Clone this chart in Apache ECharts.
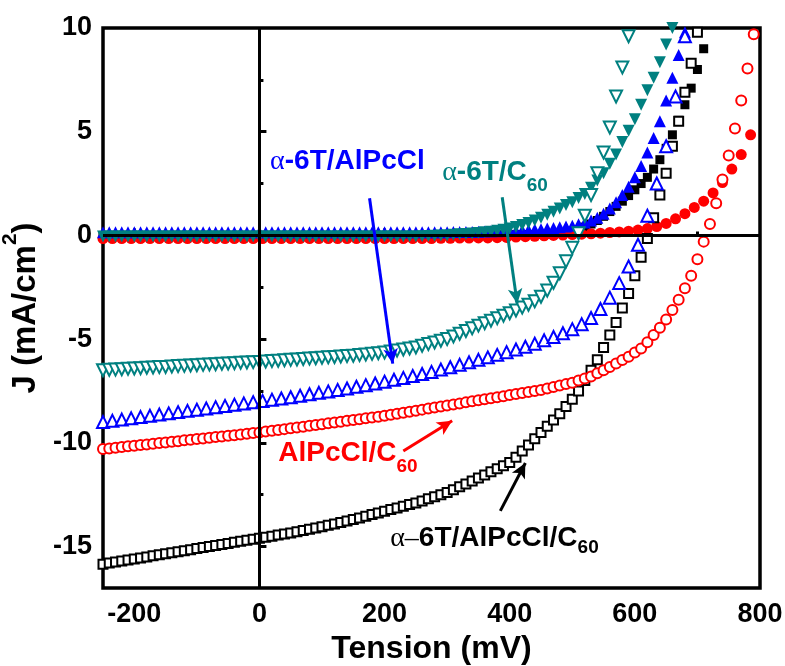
<!DOCTYPE html>
<html><head><meta charset="utf-8">
<script src="https://cdn.jsdelivr.net/npm/echarts@6/dist/echarts.min.js"></script>
<style>html,body{margin:0;padding:0;background:#fff}#c{width:785px;height:666px}</style>
</head><body><div id="c"></div>
<script>
// Voltage grids (mV)
const V10 = [-250,-240,-230,-220,-210,-200,-190,-180,-170,-160,-150,-140,-130,-120,-110,-100,-90,-80,-70,-60,-50,-40,-30,-20,-10,0,10,20,30,40,50,60,70,80,90,100,110,120,130,140,150,160,170,180,190,200,210,220,230,240,250,260,270,280,290,300,310,320,330,340,350,360,370,380,390,400,410,420,430,440,450,460,470,480,490,500,510,520,530,540,550,560,570,580,590,600,610,620,630,640,650,660,670,680,690,700,710,720,730,740,750,760,770,780,790];
const V15 = [-250,-235,-220,-205,-190,-175,-160,-145,-130,-115,-100,-85,-70,-55,-40,-25,-10,5,20,35,50,65,80,95,110,125,140,155,170,185,200,215,230,245,260,275,290,305,320,335,350,365,380,395,410,425,440,455,470,485,500,515,530,545,560,575,590,605,620,635,650,665,680,695,710,725,740,755,770,785];

// a-6T/AlPcCl/C60 (10 mV grid)
const J_tri_light = [-15.85,-15.8,-15.75,-15.7,-15.65,-15.6,-15.55,-15.5,-15.45,-15.4,
 -15.35,-15.3,-15.25,-15.2,-15.15,-15.1,-15.05,-15.0,-14.95,-14.9,
 -14.85,-14.8,-14.75,-14.7,-14.65,-14.6,-14.55,-14.5,-14.45,-14.4,
 -14.35,-14.29,-14.23,-14.17,-14.11,-14.05,-13.98,-13.91,-13.84,-13.77,
 -13.7,-13.62,-13.54,-13.46,-13.38,-13.3,-13.22,-13.14,-13.06,-12.98,
 -12.9,-12.8,-12.7,-12.6,-12.5,-12.4,-12.26,-12.12,-11.98,-11.84,
 -11.7,-11.55,-11.4,-11.25,-11.1,-10.95,-10.7,-10.4,-10.1,-9.8,
 -9.5,-9.2,-8.9,-8.6,-8.25,-7.9,-7.5,-7.0,-6.5,-6.0,
 -5.4,-4.8,-4.2,-3.5,-2.8,-1.95,-1.05,-0.15,0.85,1.95,
 3.0,4.3,5.5,6.9,8.3,9.8];
const J_tri_dark = [0,0,0,0,0,0,0,0,0,0,
 0,0,0,0,0,0,0,0,0,0,
 0,0,0,0,0,0,0,0,0,0,
 0,0,0,0,0,0,0,0,0,0,
 0,0,0,0,0,0,0,0,0,0,
 0,0,0,0,0,0,0,0,0,0,
 0.01,0.01,0.01,0.02,0.02,0.02,0.03,0.03,0.04,0.04,
 0.05,0.06,0.08,0.1,0.14,0.2,0.28,0.4,0.55,0.72,
 0.92,1.15,1.4,1.65,1.92,2.2,2.5,2.8,3.2,3.65,
 4.2,4.85,5.55,6.3,7.1,8.0,9.0];

// AlPcCl/C60 (light: 10 mV grid, dark: 15 mV grid)
const J_pc_light = [-10.3,-10.27,-10.24,-10.2,-10.17,-10.14,-10.11,-10.08,-10.04,-10.01,
 -9.98,-9.95,-9.92,-9.88,-9.85,-9.82,-9.79,-9.76,-9.72,-9.69,
 -9.66,-9.63,-9.6,-9.56,-9.53,-9.5,-9.46,-9.42,-9.38,-9.34,
 -9.3,-9.26,-9.22,-9.18,-9.14,-9.1,-9.06,-9.02,-8.98,-8.94,
 -8.9,-8.86,-8.82,-8.78,-8.74,-8.7,-8.65,-8.6,-8.55,-8.5,
 -8.45,-8.4,-8.35,-8.3,-8.25,-8.2,-8.15,-8.1,-8.05,-8.0,
 -7.95,-7.9,-7.85,-7.8,-7.75,-7.7,-7.65,-7.6,-7.55,-7.5,
 -7.45,-7.38,-7.31,-7.24,-7.17,-7.1,-7.0,-6.9,-6.8,-6.65,
 -6.5,-6.35,-6.18,-6.01,-5.85,-5.65,-5.45,-5.15,-4.8,-4.45,
 -4.05,-3.6,-3.1,-2.55,-1.95,-1.15,-0.3,0.55,1.55,2.7,
 3.85,5.15,6.5,8.05,9.7];
const J_pc_dark = [-0.15,-0.15,-0.15,-0.15,-0.15,-0.15,-0.15,-0.15,-0.15,-0.15,
 -0.15,-0.15,-0.15,-0.15,-0.15,-0.15,-0.15,
 -0.15,-0.15,-0.15,-0.15,-0.15,-0.15,-0.15,-0.15,-0.15,-0.15,
 -0.15,-0.15,-0.15,-0.15,-0.15,-0.15,-0.15,
 -0.15,-0.15,-0.14,-0.14,-0.13,-0.13,-0.12,-0.12,-0.11,-0.1,
 -0.08,-0.06,-0.04,-0.02,0.0,0.02,0.04,0.06,0.08,0.11,
 0.14,0.17,0.2,0.26,0.33,0.43,0.58,0.8,1.05,1.35,
 1.65,2.05,2.55,3.2,3.9,4.85];

// a-6T/AlPcCl (light: 15 mV grid, dark: 10 mV grid)
const J_6tpc_light = [-9.0,-8.94,-8.88,-8.82,-8.76,-8.7,-8.64,-8.58,-8.52,-8.46,
 -8.4,-8.34,-8.28,-8.22,-8.16,-8.1,-8.04,-7.98,-7.92,-7.86,
 -7.8,-7.73,-7.66,-7.59,-7.52,-7.45,-7.38,-7.3,-7.22,-7.14,
 -7.05,-6.96,-6.87,-6.78,-6.68,-6.58,-6.47,-6.36,-6.24,-6.12,
 -6.0,-5.88,-5.76,-5.63,-5.5,-5.37,-5.22,-5.06,-4.9,-4.72,
 -4.52,-4.28,-3.98,-3.55,-3.0,-2.3,-1.5,-0.45,0.95,2.5,
 4.3,6.7,9.6];
const J_6tpc_dark = [0.15,0.15,0.15,0.15,0.15,0.15,0.15,0.15,0.15,0.15,
 0.15,0.15,0.15,0.15,0.15,0.15,0.15,0.15,0.15,0.15,
 0.15,0.15,0.15,0.15,0.15,0.15,0.15,0.15,0.15,0.15,
 0.15,0.15,0.15,0.15,0.15,0.15,0.15,0.15,0.15,0.15,
 0.15,0.15,0.15,0.15,0.15,0.15,0.15,0.15,0.15,0.15,
 0.15,0.15,0.15,0.15,0.15,
 0.15,0.16,0.16,0.17,0.17,
 0.18,0.19,0.2,0.2,0.21,0.22,0.23,0.25,0.26,0.28,
 0.3,0.33,0.36,0.39,0.43,0.47,0.54,0.62,0.72,0.85,
 1.05,1.3,1.6,1.95,2.35,2.8,3.35,4.0,4.7,5.5,
 6.5,7.6,8.7,9.8];

// a-6T/C60 (10 mV grid)
const J_6tc_light = [-6.5,-6.48,-6.47,-6.45,-6.43,-6.42,-6.4,-6.38,-6.37,-6.35,
 -6.34,-6.32,-6.3,-6.29,-6.27,-6.26,-6.24,-6.22,-6.21,-6.19,
 -6.18,-6.16,-6.14,-6.13,-6.11,-6.1,-6.08,-6.06,-6.04,-6.02,
 -6.0,-5.98,-5.96,-5.94,-5.92,-5.9,-5.88,-5.86,-5.84,-5.82,
 -5.8,-5.77,-5.74,-5.71,-5.68,-5.65,-5.6,-5.55,-5.5,-5.45,
 -5.4,-5.32,-5.24,-5.16,-5.08,-5.0,-4.87,-4.74,-4.61,-4.48,
 -4.35,-4.23,-4.11,-3.99,-3.87,-3.75,-3.62,-3.48,-3.34,-3.18,
 -2.96,-2.66,-2.28,-1.82,-1.25,-0.6,0.1,0.95,1.95,3.0,
 4.0,5.2,6.7,8.1,9.6];
const J_6tc_dark = [-0.05,-0.05,-0.05,-0.05,-0.05,-0.05,-0.05,-0.05,-0.05,-0.05,
 -0.05,-0.05,-0.05,-0.05,-0.05,-0.05,-0.05,-0.05,-0.05,-0.05,
 -0.05,-0.05,-0.05,-0.05,-0.05,-0.05,-0.05,-0.05,-0.05,-0.05,
 -0.05,-0.05,-0.05,-0.05,-0.05,-0.05,-0.05,-0.05,-0.05,-0.05,
 -0.05,-0.05,-0.05,-0.05,-0.05,-0.05,-0.05,-0.05,-0.05,-0.05,
 -0.05,-0.04,-0.03,-0.02,-0.01,0.0,0.03,0.05,0.07,0.09,
 0.12,0.15,0.18,0.22,0.27,0.33,0.41,0.5,0.6,0.72,
 0.85,0.99,1.14,1.3,1.47,1.6,1.8,2.0,2.3,2.65,
 3.0,3.45,3.9,4.5,5.05,5.6,6.3,7.0,7.6,8.35,
 9.2,10.0];

// axis tick values
const X_LABELS = [-200,0,200,400,600,800];
const X_MAJOR = [-200,200,400,600];
const X_MINOR = [-100,100,300,500,700];
const Y_LABELS = [-15,-10,-5,0,5,10];
const Y_MAJOR = [-15,-10,-5,5];
const Y_MINOR = [-12.5,-7.5,-2.5,2.5,7.5];

// annotations (data coordinates: left edge of text, centre of main text)
const LABELS = [
  {parts:[['g','α'],['m','-6T/AlPcCl']], color:'#0000ff', x:17, y:3.55, sub:0},
  {parts:[['g','α'],['m','-6T/C'],['s','60']], color:'#008080', x:292, y:3.05, sub:14},
  {parts:[['m','AlPcCl/C'],['s','60']], color:'#ff0000', x:30, y:-10.5, sub:14},
  {parts:[['g','α–'],['m','6T/AlPcCl/C'],['s','60']], color:'#000000', x:209, y:-14.62, sub:9}
];
const ARROWS = [
  {from:[176,1.79], to:[213,-6.18], color:'#0000ff'},
  {from:[388,1.84], to:[412,-3.29], color:'#008080'},
  {from:[230,-10.39], to:[308,-8.94], color:'#ff0000'},
  {from:[385,-13.28], to:[425,-10.97], color:'#000000'}
];

function pairs(xs, ys){ return ys.map((y,i)=>[xs[i], y]); }
const FONT = '"Liberation Sans", Arial, sans-serif';
const SERIF = '"Liberation Serif", "Times New Roman", serif';

function sc(name, xs, ys, symbol, size, color, filled, rot){
  return {
    name, type:'scatter', xAxisIndex:0, yAxisIndex:0,
    data: pairs(xs, ys), symbol, symbolSize:size, symbolRotate: rot||0,
    itemStyle: filled ? {color:color, opacity:1} : {color:'#ffffff', borderColor:color, borderWidth:2, opacity:1},
    emphasis:{disabled:true}, silent:true, animation:false
  };
}

const chart = echarts.init(document.getElementById('c'), null, {renderer:'canvas'});

const option = {
  animation:false,
  backgroundColor:'#ffffff',
  grid:{left:103, right:25, top:28, bottom:78, show:true, borderColor:'#000', borderWidth:3.5,
        backgroundColor:'transparent', containLabel:false, outerBoundsMode:'none'},
  xAxis:[
    {type:'value', min:-250, max:800, position:'bottom',
     axisLine:{show:false}, splitLine:{show:false},
     axisTick:{show:true, inside:true, length:7, customValues:X_MAJOR, lineStyle:{color:'#000', width:3}},
     axisLabel:{customValues:X_LABELS, fontSize:27, fontWeight:'bold', color:'#000', fontFamily:FONT, margin:13},
     name:'Tension (mV)', nameLocation:'middle', nameGap:40,
     nameTextStyle:{fontSize:32, fontWeight:'bold', color:'#000', fontFamily:FONT}},
    {type:'value', min:-250, max:800, position:'bottom',
     axisLine:{show:false}, splitLine:{show:false}, axisLabel:{show:false},
     axisTick:{show:true, inside:true, length:4, customValues:X_MINOR, lineStyle:{color:'#000', width:3}}}
  ],
  yAxis:[
    {type:'value', min:-17, max:10, position:'left',
     axisLine:{show:false}, splitLine:{show:false},
     axisTick:{show:true, inside:true, length:7, customValues:Y_MAJOR, lineStyle:{color:'#000', width:3}},
     axisLabel:{customValues:Y_LABELS, fontSize:27, fontWeight:'bold', color:'#000', fontFamily:FONT, margin:11},
     name:'{a|J (mA/cm}{s|2}{a|)}', nameLocation:'middle', nameGap:53, nameRotate:90,
     nameTextStyle:{color:'#000', fontFamily:FONT, fontWeight:'bold',
       rich:{a:{fontSize:33, fontWeight:'bold', fontFamily:FONT, color:'#000', lineHeight:42, verticalAlign:'bottom'},
             s:{fontSize:21, fontWeight:'bold', fontFamily:FONT, color:'#000', lineHeight:21, verticalAlign:'top'}}}},
    {type:'value', min:-17, max:10, position:'left',
     axisLine:{show:false}, splitLine:{show:false}, axisLabel:{show:false},
     axisTick:{show:true, inside:true, length:4, customValues:Y_MINOR, lineStyle:{color:'#000', width:3}}}
  ],
  series:[
    {type:'line', data:[], silent:true, z:1,
     markLine:{silent:true, symbol:'none', animation:false, label:{show:false},
       lineStyle:{color:'#000', width:3, type:'solid'},
       data:[{xAxis:0},{yAxis:0}]}},
    sc('a-6T/AlPcCl/C60 dark', V10, J_tri_dark, 'rect', 9, '#000000', true),
    sc('AlPcCl/C60 dark', V15, J_pc_dark, 'circle', 11, '#ff0000', true),
    sc('a-6T/AlPcCl dark', V10, J_6tpc_dark, 'triangle', 12, '#0000ff', true),
    sc('a-6T/C60 dark', V10, J_6tc_dark, 'triangle', 12, '#008080', true, 180),
    sc('a-6T/AlPcCl/C60 light', V10, J_tri_light, 'rect', 9, '#000000', false),
    sc('AlPcCl/C60 light', V10, J_pc_light, 'circle', 10, '#ff0000', false),
    sc('a-6T/AlPcCl light', V15, J_6tpc_light, 'triangle', 12, '#0000ff', false),
    sc('a-6T/C60 light', V10, J_6tc_light, 'triangle', 12, '#008080', false, 180),
    {type:'line', data:[], silent:true, z:5,
     markLine:{silent:true, animation:false, symbol:['none','arrow'], symbolSize:[11,15], label:{show:false},
       data: ARROWS.map(a=>[{coord:a.from, lineStyle:{color:a.color, width:3, type:'solid'}, itemStyle:{color:a.color}},{coord:a.to}])}}
  ]
};
chart.setOption(option);

// annotation texts placed from data coordinates
const ctx = document.createElement('canvas').getContext('2d');
const FONTS = {g:'normal 28px '+SERIF, m:'bold 28px '+FONT, s:'bold 19px '+FONT};
function textW(kind, s){ ctx.font = FONTS[kind]; return ctx.measureText(s).width; }
const graphics = [];
LABELS.forEach(l=>{
  const p = chart.convertToPixel({xAxisIndex:0, yAxisIndex:0}, [l.x, l.y]);
  let cx = p[0];
  l.parts.forEach(t=>{
    const kind = t[0];
    graphics.push({type:'text', x:cx, y:p[1] + (kind==='s' ? l.sub : 0), z:100, silent:true,
      style:{text:t[1], fill:l.color, align:'left', verticalAlign:'middle', font:FONTS[kind]}});
    cx += textW(kind, t[1]);
  });
});
chart.setOption({graphic:graphics});
</script></body></html>
